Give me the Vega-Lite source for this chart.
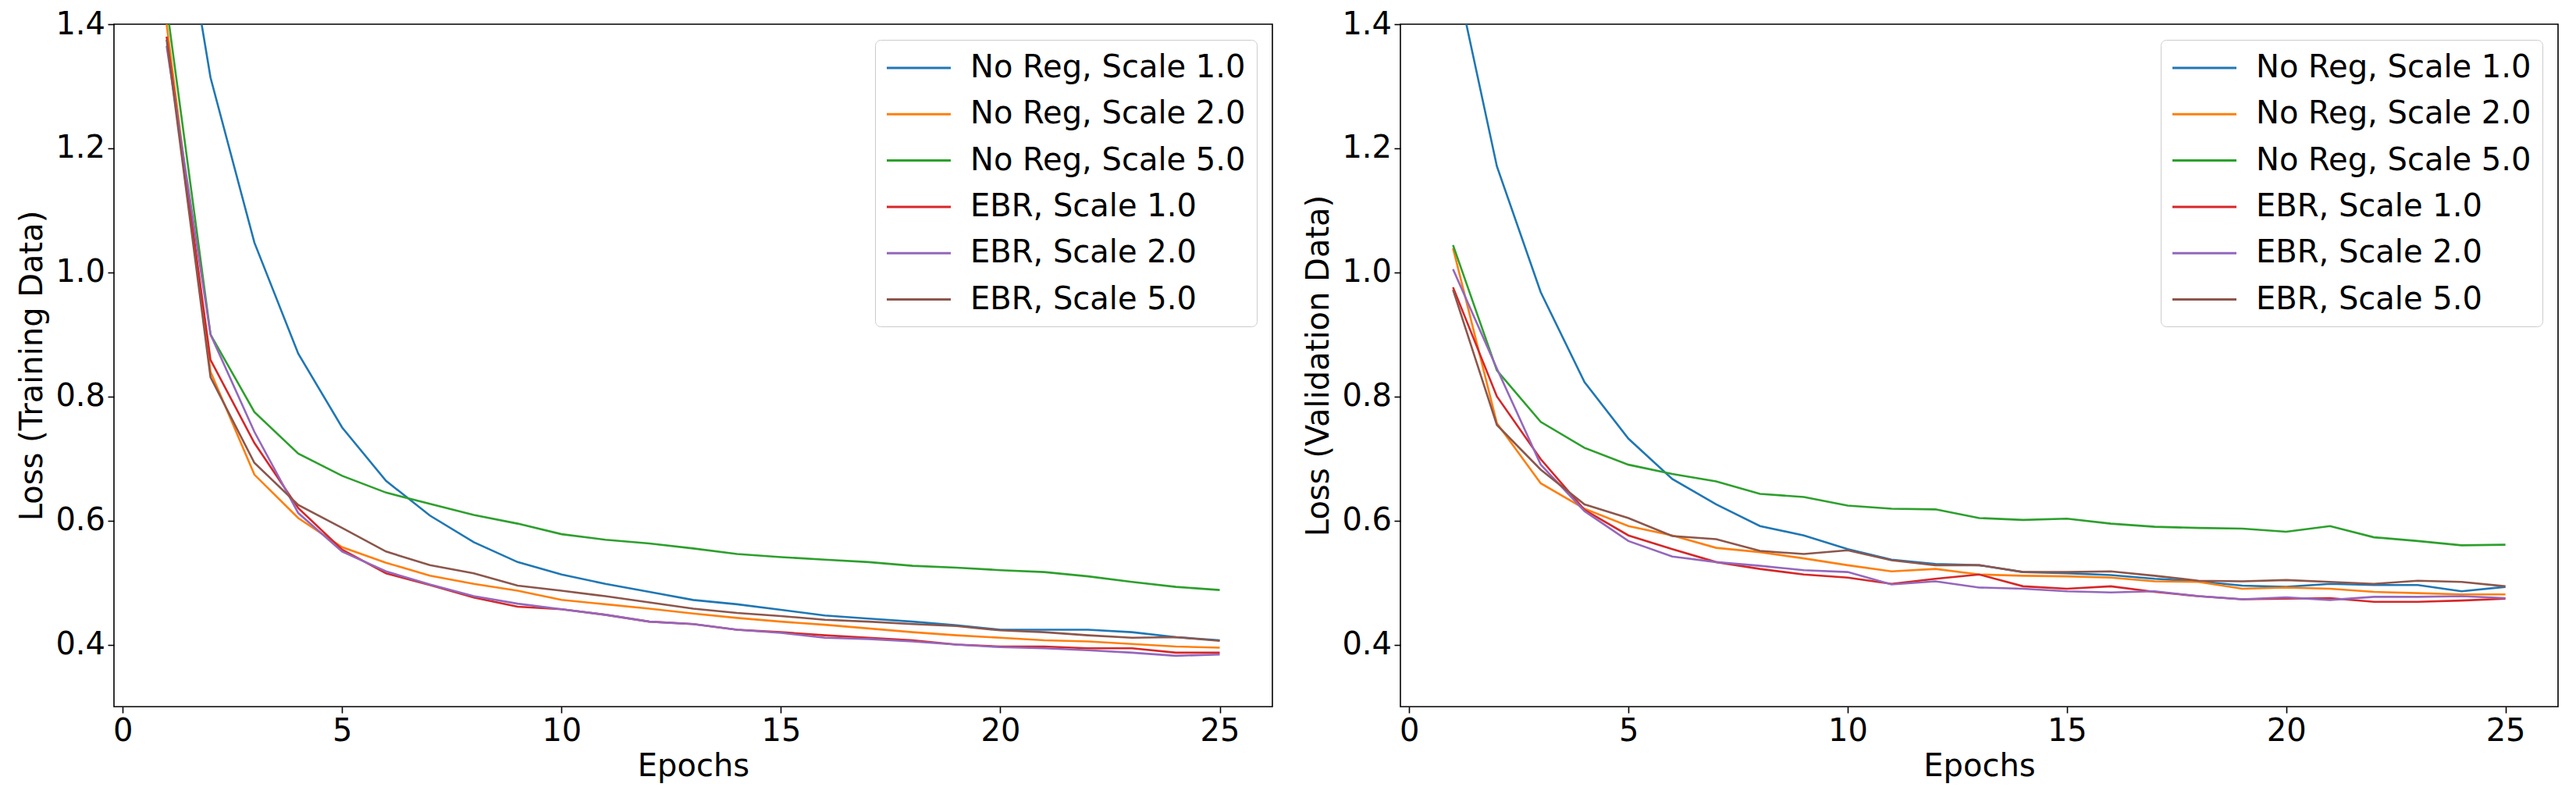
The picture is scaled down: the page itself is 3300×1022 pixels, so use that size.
{
"$schema": "https://vega.github.io/schema/vega-lite/v6.json",
"padding": {"left": 21, "top": 10, "right": 22, "bottom": 0},
"background": "white",
"spacing": 164,
"bounds": "flush",
"datasets": {
"train": [
{"series":"No Reg, Scale 1.0","epoch":1,"loss":1.74},{"series":"No Reg, Scale 1.0","epoch":2,"loss":1.314},{"series":"No Reg, Scale 1.0","epoch":3,"loss":1.048},{"series":"No Reg, Scale 1.0","epoch":4,"loss":0.869},{"series":"No Reg, Scale 1.0","epoch":5,"loss":0.750},{"series":"No Reg, Scale 1.0","epoch":6,"loss":0.664},{"series":"No Reg, Scale 1.0","epoch":7,"loss":0.608},{"series":"No Reg, Scale 1.0","epoch":8,"loss":0.565},{"series":"No Reg, Scale 1.0","epoch":9,"loss":0.533},{"series":"No Reg, Scale 1.0","epoch":10,"loss":0.513},{"series":"No Reg, Scale 1.0","epoch":11,"loss":0.498},{"series":"No Reg, Scale 1.0","epoch":12,"loss":0.485},{"series":"No Reg, Scale 1.0","epoch":13,"loss":0.472},{"series":"No Reg, Scale 1.0","epoch":14,"loss":0.465},{"series":"No Reg, Scale 1.0","epoch":15,"loss":0.456},{"series":"No Reg, Scale 1.0","epoch":16,"loss":0.447},{"series":"No Reg, Scale 1.0","epoch":17,"loss":0.442},{"series":"No Reg, Scale 1.0","epoch":18,"loss":0.437},{"series":"No Reg, Scale 1.0","epoch":19,"loss":0.431},{"series":"No Reg, Scale 1.0","epoch":20,"loss":0.424},{"series":"No Reg, Scale 1.0","epoch":21,"loss":0.424},{"series":"No Reg, Scale 1.0","epoch":22,"loss":0.424},{"series":"No Reg, Scale 1.0","epoch":23,"loss":0.420},{"series":"No Reg, Scale 1.0","epoch":24,"loss":0.412},{"series":"No Reg, Scale 1.0","epoch":25,"loss":0.407},
{"series":"No Reg, Scale 2.0","epoch":1,"loss":1.40},{"series":"No Reg, Scale 2.0","epoch":2,"loss":0.840},{"series":"No Reg, Scale 2.0","epoch":3,"loss":0.674},{"series":"No Reg, Scale 2.0","epoch":4,"loss":0.604},{"series":"No Reg, Scale 2.0","epoch":5,"loss":0.557},{"series":"No Reg, Scale 2.0","epoch":6,"loss":0.532},{"series":"No Reg, Scale 2.0","epoch":7,"loss":0.511},{"series":"No Reg, Scale 2.0","epoch":8,"loss":0.498},{"series":"No Reg, Scale 2.0","epoch":9,"loss":0.487},{"series":"No Reg, Scale 2.0","epoch":10,"loss":0.472},{"series":"No Reg, Scale 2.0","epoch":11,"loss":0.465},{"series":"No Reg, Scale 2.0","epoch":12,"loss":0.458},{"series":"No Reg, Scale 2.0","epoch":13,"loss":0.450},{"series":"No Reg, Scale 2.0","epoch":14,"loss":0.443},{"series":"No Reg, Scale 2.0","epoch":15,"loss":0.437},{"series":"No Reg, Scale 2.0","epoch":16,"loss":0.432},{"series":"No Reg, Scale 2.0","epoch":17,"loss":0.426},{"series":"No Reg, Scale 2.0","epoch":18,"loss":0.420},{"series":"No Reg, Scale 2.0","epoch":19,"loss":0.415},{"series":"No Reg, Scale 2.0","epoch":20,"loss":0.411},{"series":"No Reg, Scale 2.0","epoch":21,"loss":0.407},{"series":"No Reg, Scale 2.0","epoch":22,"loss":0.405},{"series":"No Reg, Scale 2.0","epoch":23,"loss":0.401},{"series":"No Reg, Scale 2.0","epoch":24,"loss":0.397},{"series":"No Reg, Scale 2.0","epoch":25,"loss":0.395},
{"series":"No Reg, Scale 5.0","epoch":1,"loss":1.43},{"series":"No Reg, Scale 5.0","epoch":2,"loss":0.900},{"series":"No Reg, Scale 5.0","epoch":3,"loss":0.775},{"series":"No Reg, Scale 5.0","epoch":4,"loss":0.708},{"series":"No Reg, Scale 5.0","epoch":5,"loss":0.672},{"series":"No Reg, Scale 5.0","epoch":6,"loss":0.645},{"series":"No Reg, Scale 5.0","epoch":7,"loss":0.627},{"series":"No Reg, Scale 5.0","epoch":8,"loss":0.609},{"series":"No Reg, Scale 5.0","epoch":9,"loss":0.595},{"series":"No Reg, Scale 5.0","epoch":10,"loss":0.578},{"series":"No Reg, Scale 5.0","epoch":11,"loss":0.569},{"series":"No Reg, Scale 5.0","epoch":12,"loss":0.563},{"series":"No Reg, Scale 5.0","epoch":13,"loss":0.555},{"series":"No Reg, Scale 5.0","epoch":14,"loss":0.546},{"series":"No Reg, Scale 5.0","epoch":15,"loss":0.541},{"series":"No Reg, Scale 5.0","epoch":16,"loss":0.537},{"series":"No Reg, Scale 5.0","epoch":17,"loss":0.533},{"series":"No Reg, Scale 5.0","epoch":18,"loss":0.527},{"series":"No Reg, Scale 5.0","epoch":19,"loss":0.524},{"series":"No Reg, Scale 5.0","epoch":20,"loss":0.520},{"series":"No Reg, Scale 5.0","epoch":21,"loss":0.517},{"series":"No Reg, Scale 5.0","epoch":22,"loss":0.510},{"series":"No Reg, Scale 5.0","epoch":23,"loss":0.501},{"series":"No Reg, Scale 5.0","epoch":24,"loss":0.493},{"series":"No Reg, Scale 5.0","epoch":25,"loss":0.488},
{"series":"EBR, Scale 1.0","epoch":1,"loss":1.38},{"series":"EBR, Scale 1.0","epoch":2,"loss":0.859},{"series":"EBR, Scale 1.0","epoch":3,"loss":0.725},{"series":"EBR, Scale 1.0","epoch":4,"loss":0.620},{"series":"EBR, Scale 1.0","epoch":5,"loss":0.553},{"series":"EBR, Scale 1.0","epoch":6,"loss":0.515},{"series":"EBR, Scale 1.0","epoch":7,"loss":0.496},{"series":"EBR, Scale 1.0","epoch":8,"loss":0.476},{"series":"EBR, Scale 1.0","epoch":9,"loss":0.461},{"series":"EBR, Scale 1.0","epoch":10,"loss":0.457},{"series":"EBR, Scale 1.0","epoch":11,"loss":0.448},{"series":"EBR, Scale 1.0","epoch":12,"loss":0.437},{"series":"EBR, Scale 1.0","epoch":13,"loss":0.433},{"series":"EBR, Scale 1.0","epoch":14,"loss":0.424},{"series":"EBR, Scale 1.0","epoch":15,"loss":0.420},{"series":"EBR, Scale 1.0","epoch":16,"loss":0.415},{"series":"EBR, Scale 1.0","epoch":17,"loss":0.411},{"series":"EBR, Scale 1.0","epoch":18,"loss":0.407},{"series":"EBR, Scale 1.0","epoch":19,"loss":0.400},{"series":"EBR, Scale 1.0","epoch":20,"loss":0.397},{"series":"EBR, Scale 1.0","epoch":21,"loss":0.397},{"series":"EBR, Scale 1.0","epoch":22,"loss":0.394},{"series":"EBR, Scale 1.0","epoch":23,"loss":0.394},{"series":"EBR, Scale 1.0","epoch":24,"loss":0.387},{"series":"EBR, Scale 1.0","epoch":25,"loss":0.387},
{"series":"EBR, Scale 2.0","epoch":1,"loss":1.365},{"series":"EBR, Scale 2.0","epoch":2,"loss":0.900},{"series":"EBR, Scale 2.0","epoch":3,"loss":0.743},{"series":"EBR, Scale 2.0","epoch":4,"loss":0.612},{"series":"EBR, Scale 2.0","epoch":5,"loss":0.550},{"series":"EBR, Scale 2.0","epoch":6,"loss":0.518},{"series":"EBR, Scale 2.0","epoch":7,"loss":0.497},{"series":"EBR, Scale 2.0","epoch":8,"loss":0.478},{"series":"EBR, Scale 2.0","epoch":9,"loss":0.466},{"series":"EBR, Scale 2.0","epoch":10,"loss":0.457},{"series":"EBR, Scale 2.0","epoch":11,"loss":0.448},{"series":"EBR, Scale 2.0","epoch":12,"loss":0.437},{"series":"EBR, Scale 2.0","epoch":13,"loss":0.433},{"series":"EBR, Scale 2.0","epoch":14,"loss":0.424},{"series":"EBR, Scale 2.0","epoch":15,"loss":0.419},{"series":"EBR, Scale 2.0","epoch":16,"loss":0.411},{"series":"EBR, Scale 2.0","epoch":17,"loss":0.409},{"series":"EBR, Scale 2.0","epoch":18,"loss":0.405},{"series":"EBR, Scale 2.0","epoch":19,"loss":0.400},{"series":"EBR, Scale 2.0","epoch":20,"loss":0.396},{"series":"EBR, Scale 2.0","epoch":21,"loss":0.394},{"series":"EBR, Scale 2.0","epoch":22,"loss":0.391},{"series":"EBR, Scale 2.0","epoch":23,"loss":0.387},{"series":"EBR, Scale 2.0","epoch":24,"loss":0.382},{"series":"EBR, Scale 2.0","epoch":25,"loss":0.384},
{"series":"EBR, Scale 5.0","epoch":1,"loss":1.375},{"series":"EBR, Scale 5.0","epoch":2,"loss":0.831},{"series":"EBR, Scale 5.0","epoch":3,"loss":0.693},{"series":"EBR, Scale 5.0","epoch":4,"loss":0.625},{"series":"EBR, Scale 5.0","epoch":5,"loss":0.588},{"series":"EBR, Scale 5.0","epoch":6,"loss":0.550},{"series":"EBR, Scale 5.0","epoch":7,"loss":0.528},{"series":"EBR, Scale 5.0","epoch":8,"loss":0.515},{"series":"EBR, Scale 5.0","epoch":9,"loss":0.495},{"series":"EBR, Scale 5.0","epoch":10,"loss":0.487},{"series":"EBR, Scale 5.0","epoch":11,"loss":0.478},{"series":"EBR, Scale 5.0","epoch":12,"loss":0.468},{"series":"EBR, Scale 5.0","epoch":13,"loss":0.458},{"series":"EBR, Scale 5.0","epoch":14,"loss":0.451},{"series":"EBR, Scale 5.0","epoch":15,"loss":0.446},{"series":"EBR, Scale 5.0","epoch":16,"loss":0.440},{"series":"EBR, Scale 5.0","epoch":17,"loss":0.437},{"series":"EBR, Scale 5.0","epoch":18,"loss":0.433},{"series":"EBR, Scale 5.0","epoch":19,"loss":0.430},{"series":"EBR, Scale 5.0","epoch":20,"loss":0.423},{"series":"EBR, Scale 5.0","epoch":21,"loss":0.420},{"series":"EBR, Scale 5.0","epoch":22,"loss":0.415},{"series":"EBR, Scale 5.0","epoch":23,"loss":0.411},{"series":"EBR, Scale 5.0","epoch":24,"loss":0.412},{"series":"EBR, Scale 5.0","epoch":25,"loss":0.406}
],
"validation": [
{"series":"No Reg, Scale 1.0","epoch":1,"loss":1.50},{"series":"No Reg, Scale 1.0","epoch":2,"loss":1.171},{"series":"No Reg, Scale 1.0","epoch":3,"loss":0.968},{"series":"No Reg, Scale 1.0","epoch":4,"loss":0.823},{"series":"No Reg, Scale 1.0","epoch":5,"loss":0.732},{"series":"No Reg, Scale 1.0","epoch":6,"loss":0.667},{"series":"No Reg, Scale 1.0","epoch":7,"loss":0.626},{"series":"No Reg, Scale 1.0","epoch":8,"loss":0.591},{"series":"No Reg, Scale 1.0","epoch":9,"loss":0.576},{"series":"No Reg, Scale 1.0","epoch":10,"loss":0.554},{"series":"No Reg, Scale 1.0","epoch":11,"loss":0.537},{"series":"No Reg, Scale 1.0","epoch":12,"loss":0.530},{"series":"No Reg, Scale 1.0","epoch":13,"loss":0.528},{"series":"No Reg, Scale 1.0","epoch":14,"loss":0.517},{"series":"No Reg, Scale 1.0","epoch":15,"loss":0.515},{"series":"No Reg, Scale 1.0","epoch":16,"loss":0.512},{"series":"No Reg, Scale 1.0","epoch":17,"loss":0.506},{"series":"No Reg, Scale 1.0","epoch":18,"loss":0.502},{"series":"No Reg, Scale 1.0","epoch":19,"loss":0.495},{"series":"No Reg, Scale 1.0","epoch":20,"loss":0.493},{"series":"No Reg, Scale 1.0","epoch":21,"loss":0.498},{"series":"No Reg, Scale 1.0","epoch":22,"loss":0.496},{"series":"No Reg, Scale 1.0","epoch":23,"loss":0.496},{"series":"No Reg, Scale 1.0","epoch":24,"loss":0.486},{"series":"No Reg, Scale 1.0","epoch":25,"loss":0.493},
{"series":"No Reg, Scale 2.0","epoch":1,"loss":1.039},{"series":"No Reg, Scale 2.0","epoch":2,"loss":0.757},{"series":"No Reg, Scale 2.0","epoch":3,"loss":0.660},{"series":"No Reg, Scale 2.0","epoch":4,"loss":0.619},{"series":"No Reg, Scale 2.0","epoch":5,"loss":0.591},{"series":"No Reg, Scale 2.0","epoch":6,"loss":0.576},{"series":"No Reg, Scale 2.0","epoch":7,"loss":0.556},{"series":"No Reg, Scale 2.0","epoch":8,"loss":0.549},{"series":"No Reg, Scale 2.0","epoch":9,"loss":0.539},{"series":"No Reg, Scale 2.0","epoch":10,"loss":0.528},{"series":"No Reg, Scale 2.0","epoch":11,"loss":0.518},{"series":"No Reg, Scale 2.0","epoch":12,"loss":0.522},{"series":"No Reg, Scale 2.0","epoch":13,"loss":0.513},{"series":"No Reg, Scale 2.0","epoch":14,"loss":0.511},{"series":"No Reg, Scale 2.0","epoch":15,"loss":0.510},{"series":"No Reg, Scale 2.0","epoch":16,"loss":0.508},{"series":"No Reg, Scale 2.0","epoch":17,"loss":0.502},{"series":"No Reg, Scale 2.0","epoch":18,"loss":0.501},{"series":"No Reg, Scale 2.0","epoch":19,"loss":0.490},{"series":"No Reg, Scale 2.0","epoch":20,"loss":0.492},{"series":"No Reg, Scale 2.0","epoch":21,"loss":0.490},{"series":"No Reg, Scale 2.0","epoch":22,"loss":0.485},{"series":"No Reg, Scale 2.0","epoch":23,"loss":0.483},{"series":"No Reg, Scale 2.0","epoch":24,"loss":0.481},{"series":"No Reg, Scale 2.0","epoch":25,"loss":0.481},
{"series":"No Reg, Scale 5.0","epoch":1,"loss":1.044},{"series":"No Reg, Scale 5.0","epoch":2,"loss":0.842},{"series":"No Reg, Scale 5.0","epoch":3,"loss":0.759},{"series":"No Reg, Scale 5.0","epoch":4,"loss":0.717},{"series":"No Reg, Scale 5.0","epoch":5,"loss":0.690},{"series":"No Reg, Scale 5.0","epoch":6,"loss":0.675},{"series":"No Reg, Scale 5.0","epoch":7,"loss":0.663},{"series":"No Reg, Scale 5.0","epoch":8,"loss":0.643},{"series":"No Reg, Scale 5.0","epoch":9,"loss":0.638},{"series":"No Reg, Scale 5.0","epoch":10,"loss":0.624},{"series":"No Reg, Scale 5.0","epoch":11,"loss":0.619},{"series":"No Reg, Scale 5.0","epoch":12,"loss":0.618},{"series":"No Reg, Scale 5.0","epoch":13,"loss":0.604},{"series":"No Reg, Scale 5.0","epoch":14,"loss":0.601},{"series":"No Reg, Scale 5.0","epoch":15,"loss":0.603},{"series":"No Reg, Scale 5.0","epoch":16,"loss":0.595},{"series":"No Reg, Scale 5.0","epoch":17,"loss":0.590},{"series":"No Reg, Scale 5.0","epoch":18,"loss":0.588},{"series":"No Reg, Scale 5.0","epoch":19,"loss":0.587},{"series":"No Reg, Scale 5.0","epoch":20,"loss":0.582},{"series":"No Reg, Scale 5.0","epoch":21,"loss":0.591},{"series":"No Reg, Scale 5.0","epoch":22,"loss":0.573},{"series":"No Reg, Scale 5.0","epoch":23,"loss":0.567},{"series":"No Reg, Scale 5.0","epoch":24,"loss":0.560},{"series":"No Reg, Scale 5.0","epoch":25,"loss":0.561},
{"series":"EBR, Scale 1.0","epoch":1,"loss":0.976},{"series":"EBR, Scale 1.0","epoch":2,"loss":0.800},{"series":"EBR, Scale 1.0","epoch":3,"loss":0.699},{"series":"EBR, Scale 1.0","epoch":4,"loss":0.617},{"series":"EBR, Scale 1.0","epoch":5,"loss":0.576},{"series":"EBR, Scale 1.0","epoch":6,"loss":0.554},{"series":"EBR, Scale 1.0","epoch":7,"loss":0.533},{"series":"EBR, Scale 1.0","epoch":8,"loss":0.522},{"series":"EBR, Scale 1.0","epoch":9,"loss":0.513},{"series":"EBR, Scale 1.0","epoch":10,"loss":0.508},{"series":"EBR, Scale 1.0","epoch":11,"loss":0.498},{"series":"EBR, Scale 1.0","epoch":12,"loss":0.506},{"series":"EBR, Scale 1.0","epoch":13,"loss":0.513},{"series":"EBR, Scale 1.0","epoch":14,"loss":0.494},{"series":"EBR, Scale 1.0","epoch":15,"loss":0.490},{"series":"EBR, Scale 1.0","epoch":16,"loss":0.494},{"series":"EBR, Scale 1.0","epoch":17,"loss":0.485},{"series":"EBR, Scale 1.0","epoch":18,"loss":0.478},{"series":"EBR, Scale 1.0","epoch":19,"loss":0.473},{"series":"EBR, Scale 1.0","epoch":20,"loss":0.474},{"series":"EBR, Scale 1.0","epoch":21,"loss":0.475},{"series":"EBR, Scale 1.0","epoch":22,"loss":0.469},{"series":"EBR, Scale 1.0","epoch":23,"loss":0.469},{"series":"EBR, Scale 1.0","epoch":24,"loss":0.471},{"series":"EBR, Scale 1.0","epoch":25,"loss":0.474},
{"series":"EBR, Scale 2.0","epoch":1,"loss":1.005},{"series":"EBR, Scale 2.0","epoch":2,"loss":0.845},{"series":"EBR, Scale 2.0","epoch":3,"loss":0.690},{"series":"EBR, Scale 2.0","epoch":4,"loss":0.615},{"series":"EBR, Scale 2.0","epoch":5,"loss":0.567},{"series":"EBR, Scale 2.0","epoch":6,"loss":0.542},{"series":"EBR, Scale 2.0","epoch":7,"loss":0.533},{"series":"EBR, Scale 2.0","epoch":8,"loss":0.527},{"series":"EBR, Scale 2.0","epoch":9,"loss":0.520},{"series":"EBR, Scale 2.0","epoch":10,"loss":0.517},{"series":"EBR, Scale 2.0","epoch":11,"loss":0.497},{"series":"EBR, Scale 2.0","epoch":12,"loss":0.502},{"series":"EBR, Scale 2.0","epoch":13,"loss":0.492},{"series":"EBR, Scale 2.0","epoch":14,"loss":0.490},{"series":"EBR, Scale 2.0","epoch":15,"loss":0.486},{"series":"EBR, Scale 2.0","epoch":16,"loss":0.484},{"series":"EBR, Scale 2.0","epoch":17,"loss":0.486},{"series":"EBR, Scale 2.0","epoch":18,"loss":0.478},{"series":"EBR, Scale 2.0","epoch":19,"loss":0.473},{"series":"EBR, Scale 2.0","epoch":20,"loss":0.476},{"series":"EBR, Scale 2.0","epoch":21,"loss":0.472},{"series":"EBR, Scale 2.0","epoch":22,"loss":0.477},{"series":"EBR, Scale 2.0","epoch":23,"loss":0.477},{"series":"EBR, Scale 2.0","epoch":24,"loss":0.478},{"series":"EBR, Scale 2.0","epoch":25,"loss":0.475},
{"series":"EBR, Scale 5.0","epoch":1,"loss":0.972},{"series":"EBR, Scale 5.0","epoch":2,"loss":0.754},{"series":"EBR, Scale 5.0","epoch":3,"loss":0.682},{"series":"EBR, Scale 5.0","epoch":4,"loss":0.626},{"series":"EBR, Scale 5.0","epoch":5,"loss":0.604},{"series":"EBR, Scale 5.0","epoch":6,"loss":0.575},{"series":"EBR, Scale 5.0","epoch":7,"loss":0.570},{"series":"EBR, Scale 5.0","epoch":8,"loss":0.551},{"series":"EBR, Scale 5.0","epoch":9,"loss":0.546},{"series":"EBR, Scale 5.0","epoch":10,"loss":0.552},{"series":"EBR, Scale 5.0","epoch":11,"loss":0.536},{"series":"EBR, Scale 5.0","epoch":12,"loss":0.528},{"series":"EBR, Scale 5.0","epoch":13,"loss":0.528},{"series":"EBR, Scale 5.0","epoch":14,"loss":0.517},{"series":"EBR, Scale 5.0","epoch":15,"loss":0.517},{"series":"EBR, Scale 5.0","epoch":16,"loss":0.518},{"series":"EBR, Scale 5.0","epoch":17,"loss":0.511},{"series":"EBR, Scale 5.0","epoch":18,"loss":0.503},{"series":"EBR, Scale 5.0","epoch":19,"loss":0.502},{"series":"EBR, Scale 5.0","epoch":20,"loss":0.504},{"series":"EBR, Scale 5.0","epoch":21,"loss":0.501},{"series":"EBR, Scale 5.0","epoch":22,"loss":0.498},{"series":"EBR, Scale 5.0","epoch":23,"loss":0.503},{"series":"EBR, Scale 5.0","epoch":24,"loss":0.501},{"series":"EBR, Scale 5.0","epoch":25,"loss":0.494}
]
},
"hconcat": [
{
"data": {"name": "train"},
"width": 1484, "height": 874,
"mark": {"type": "line", "strokeWidth": 2.6, "clip": true},
"encoding": {
"x": {"field": "epoch", "type": "quantitative", "scale": {"domain": [-0.2, 26.2], "nice": false, "zero": false}, "axis": {"values": [0, 5, 10, 15, 20, 25], "format": "d", "title": "Epochs"}},
"y": {"field": "loss", "type": "quantitative", "scale": {"domain": [0.3, 1.4], "nice": false, "zero": false}, "axis": {"values": [0.4, 0.6, 0.8, 1.0, 1.2, 1.4], "format": ".1f", "title": "Loss (Training Data)"}},
"color": {"field": "series", "type": "nominal", "scale": {"domain": ["No Reg, Scale 1.0", "No Reg, Scale 2.0", "No Reg, Scale 5.0", "EBR, Scale 1.0", "EBR, Scale 2.0", "EBR, Scale 5.0"], "range": ["#1f77b4", "#ff7f0e", "#2ca02c", "#d62728", "#9467bd", "#8c564b"]}, "legend": {"title": null}}
}
},
{
"data": {"name": "validation"},
"width": 1483, "height": 874,
"mark": {"type": "line", "strokeWidth": 2.6, "clip": true},
"encoding": {
"x": {"field": "epoch", "type": "quantitative", "scale": {"domain": [-0.2, 26.2], "nice": false, "zero": false}, "axis": {"values": [0, 5, 10, 15, 20, 25], "format": "d", "title": "Epochs"}},
"y": {"field": "loss", "type": "quantitative", "scale": {"domain": [0.3, 1.4], "nice": false, "zero": false}, "axis": {"values": [0.4, 0.6, 0.8, 1.0, 1.2, 1.4], "format": ".1f", "title": "Loss (Validation Data)"}},
"color": {"field": "series", "type": "nominal", "scale": {"domain": ["No Reg, Scale 1.0", "No Reg, Scale 2.0", "No Reg, Scale 5.0", "EBR, Scale 1.0", "EBR, Scale 2.0", "EBR, Scale 5.0"], "range": ["#1f77b4", "#ff7f0e", "#2ca02c", "#d62728", "#9467bd", "#8c564b"]}, "legend": {"title": null}}
}
}
],
"resolve": {"scale": {"color": "independent", "x": "independent", "y": "independent"}, "legend": {"color": "independent"}},
"config": {
"font": "DejaVu Sans",
"view": {"stroke": "#000000", "strokeWidth": 1.6},
"axis": {"domain": false, "grid": false, "labelFont": "DejaVu Sans", "labelFontSize": 40, "labelColor": "#000000", "tickColor": "#000000", "tickSize": 8, "tickWidth": 1.6, "labelPadding": 3.5, "titleFont": "DejaVu Sans", "titleFontSize": 40, "titleFontWeight": "normal", "titleColor": "#000000"},
"axisX": {"titlePadding": 5},
"axisY": {"titlePadding": 9},
"legend": {"orient": "top-right", "offset": 20, "symbolType": "M-2,0H2", "symbolSize": 1681, "symbolStrokeWidth": 3, "symbolOffset": 20, "labelFont": "DejaVu Sans", "labelFontSize": 40, "labelColor": "#000000", "labelOffset": 44, "labelLimit": 1000, "rowPadding": 17.3, "padding": 14, "fillColor": "#ffffff", "strokeColor": "#cccccc", "cornerRadius": 7}
}
}
